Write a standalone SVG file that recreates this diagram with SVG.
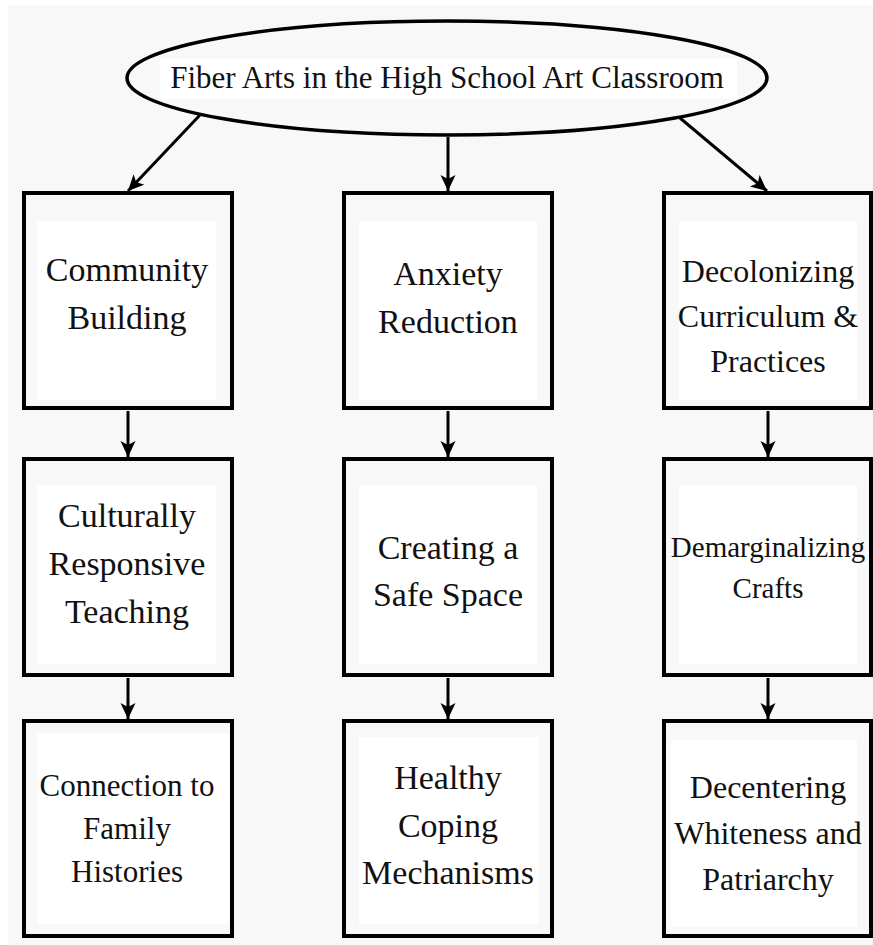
<svg xmlns="http://www.w3.org/2000/svg" width="873" height="945" viewBox="0 0 873 945">
  <style>
    .box { fill: #f8f8f8; stroke: #000; stroke-width: 4; }
    .inner { fill: #ffffff; stroke: none; }
    .lbl { font-family: "Liberation Serif", "Times New Roman", serif; fill: #111; text-anchor: middle; }
    .conn { stroke: #000; stroke-width: 3; fill: none; marker-end: url(#arrow); }
  </style>
  <defs>
    <marker id="arrow" markerUnits="userSpaceOnUse" markerWidth="18" markerHeight="16" refX="16" refY="7.5" orient="auto">
      <path d="M0,0 L16,7.5 L0,15 L4,7.5 Z" fill="#000"/>
    </marker>
  </defs>
  <rect x="0" y="0" width="873" height="945" fill="#ffffff"/>
  <rect x="8" y="5" width="865" height="940" fill="#f8f8f8"/>

  <g id="root">
    <ellipse cx="447" cy="78" rx="320" ry="57" fill="#f8f8f8" stroke="#000" stroke-width="3.5"/>
    <rect class="inner" x="160" y="59" width="577" height="40"/>
    <text class="lbl" x="447" y="88" font-size="31">Fiber Arts in the High School Art Classroom</text>
  </g>

  <g id="community-building">
    <rect class="box" x="24" y="193" width="208" height="215"/>
    <rect class="inner" x="37" y="222" width="179" height="178"/>
    <text class="lbl" font-size="34"><tspan x="127" y="281">Community</tspan><tspan x="127" y="329">Building</tspan></text>
  </g>
  <g id="anxiety-reduction">
    <rect class="box" x="344" y="193" width="208" height="215"/>
    <rect class="inner" x="359" y="222" width="178" height="178"/>
    <text class="lbl" font-size="34"><tspan x="448" y="285">Anxiety</tspan><tspan x="448" y="333">Reduction</tspan></text>
  </g>
  <g id="decolonizing">
    <rect class="box" x="664" y="193" width="207" height="215"/>
    <rect class="inner" x="679" y="222" width="178" height="178"/>
    <text class="lbl" font-size="32"><tspan x="768" y="282">Decolonizing</tspan><tspan x="768" y="327">Curriculum &amp;</tspan><tspan x="768" y="372">Practices</tspan></text>
  </g>

  <g id="culturally-responsive">
    <rect class="box" x="24" y="459" width="208" height="216"/>
    <rect class="inner" x="37" y="486" width="179" height="178"/>
    <text class="lbl" font-size="34"><tspan x="127" y="527">Culturally</tspan><tspan x="127" y="575">Responsive</tspan><tspan x="127" y="623">Teaching</tspan></text>
  </g>
  <g id="safe-space">
    <rect class="box" x="344" y="459" width="208" height="216"/>
    <rect class="inner" x="359" y="486" width="178" height="178"/>
    <text class="lbl" font-size="34"><tspan x="448" y="559">Creating a</tspan><tspan x="448" y="606">Safe Space</tspan></text>
  </g>
  <g id="demarginalizing">
    <rect class="box" x="664" y="459" width="207" height="216"/>
    <rect class="inner" x="679" y="486" width="178" height="178"/>
    <text class="lbl" font-size="29"><tspan x="768" y="557">Demarginalizing</tspan><tspan x="768" y="598">Crafts</tspan></text>
  </g>

  <g id="family-histories">
    <rect class="box" x="24" y="721" width="208" height="215"/>
    <rect class="inner" x="37" y="734" width="192" height="190"/>
    <text class="lbl" font-size="31"><tspan x="127" y="796">Connection to</tspan><tspan x="127" y="839">Family</tspan><tspan x="127" y="882">Histories</tspan></text>
  </g>
  <g id="coping">
    <rect class="box" x="344" y="721" width="208" height="215"/>
    <rect class="inner" x="359" y="737" width="180" height="187"/>
    <text class="lbl" font-size="34"><tspan x="448" y="789">Healthy</tspan><tspan x="448" y="837">Coping</tspan><tspan x="448" y="884">Mechanisms</tspan></text>
  </g>
  <g id="decentering">
    <rect class="box" x="664" y="721" width="207" height="215"/>
    <rect class="inner" x="671" y="740" width="186" height="187"/>
    <text class="lbl" font-size="32"><tspan x="768" y="798">Decentering</tspan><tspan x="768" y="844">Whiteness and</tspan><tspan x="768" y="890">Patriarchy</tspan></text>
  </g>

  <g id="connectors">
    <line class="conn" x1="200" y1="115" x2="128" y2="191"/>
    <line class="conn" x1="448" y1="137" x2="448" y2="191"/>
    <line class="conn" x1="680" y1="118" x2="767" y2="191"/>
    <line class="conn" x1="128" y1="411" x2="128" y2="457"/>
    <line class="conn" x1="448" y1="411" x2="448" y2="457"/>
    <line class="conn" x1="768" y1="411" x2="768" y2="457"/>
    <line class="conn" x1="128" y1="678" x2="128" y2="719"/>
    <line class="conn" x1="448" y1="678" x2="448" y2="719"/>
    <line class="conn" x1="768" y1="678" x2="768" y2="719"/>
  </g>
</svg>
